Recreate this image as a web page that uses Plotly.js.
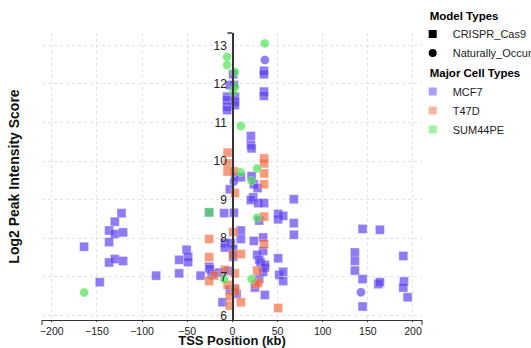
<!DOCTYPE html>
<html><head><meta charset="utf-8">
<script src="https://cdn.plot.ly/plotly-3.0.1.min.js"></script>
<style>html,body{margin:0;padding:0;background:#fff}#chart{width:531px;height:348px}</style>
</head><body><div id="chart"></div>
<script>
// Tick values
const xTicks = [-200, -150, -100, -50, 0, 50, 100, 150, 200];
const yTicks = [6, 7, 8, 9, 10, 11, 12, 13];

// Legend categories
const modelTypes = ['CRISPR_Cas9', 'Naturally_Occurred'];
const cellTypes = ['MCF7', 'T47D', 'SUM44PE'];

// MCF7 – CRISPR_Cas9 (squares)
const mcf7CrisprX = [0.9, 35, 35, 35, 35, -2.8, 1.7, -5.8, -5.8, 2.8, 2.8, 2.8, -5.8, -5.8, 20.5, 20.5,
  21.3, 9.4, 21.3, 23.8, 27.9, -2.8, 23, 20.5, 28.6, 35.2, 68.1, -25.7, -9.1, 1.7, 29.7, 50.7, 50.7, 56.3, 68.1, 9.4,
  9.4, -8.3, -8.3, -1.7, 23.8, 34.1, 68.1, 0.9, 0.9, 34.1, 27.5, 29.7, 31.2, 36, 36, 50.7,
  -50.7, -49, -49, -58.9, -25.7, -24.9, -23, -35.2, -58.9, -14.6, -4.6, 2.8, -2.8, 4.6, -10.9, 24.9, 29.7, 34.1, 36, 51.9, 56.3, 56.3,
  -122.8, -130.2, -136.5, -130.2, -121, -136.5, -164.2, -136.5, -130.2, -121, -146.8, -84.4,
  144.2, 163.4, 135.7, 135.7, 135.7, 189.3, 144.2, 161.6, 163.4, 190, 189.3, 194.1, 144.2];
const mcf7CrisprY = [12.25, 12.34, 12.25, 11.80, 11.69, 11.97, 11.97, 11.67, 11.58, 11.67, 11.54, 11.45, 11.41, 11.32, 10.65, 10.42,
  10.33, 9.58, 9.61, 9.40, 9.30, 9.27, 9.06, 8.99, 8.91, 8.91, 9.01, 8.67, 8.65, 8.66, 8.46, 8.63, 8.49, 8.58, 8.39, 8.20,
  7.98, 7.87, 7.76, 7.87, 7.93, 8.02, 8.09, 7.72, 7.52, 7.67, 7.57, 7.44, 7.37, 7.31, 7.24, 7.48,
  7.70, 7.52, 7.38, 7.44, 7.26, 7.20, 7.07, 7.03, 7.09, 7.11, 7.15, 6.66, 6.66, 6.56, 6.34, 6.72, 6.94, 7.13, 6.53, 7.05, 7.13, 6.89,
  8.65, 8.43, 8.20, 8.11, 8.15, 7.90, 7.78, 7.37, 7.46, 7.41, 6.86, 7.03,
  8.24, 8.22, 7.63, 7.41, 7.16, 7.54, 6.94, 6.81, 6.86, 6.88, 6.72, 6.47, 6.23];

// MCF7 – Naturally_Occurred (circles)
const mcf7NaturalX = [36, 2.8, 1.7, 142.4];
const mcf7NaturalY = [12.62, 9.60, 9.47, 6.60];

// T47D – CRISPR_Cas9 (squares)
const t47dCrisprX = [-5.3, 35.2, 35.2, -5.3, -5.3, 1.7, 35.2, 35.2, 2.8, 35.2, 0.9, -25.7, 35.2, 9.4, 0.9,
  -25.7, -20.2, -8.3, 2.8, -25.7, -5.3, 2.8, 2.8, -2.8, 9.4, -2.8, 26, 28.6, 27.5, 50.7];
const t47dCrisprY = [10.22, 10.07, 9.94, 9.94, 9.73, 9.73, 9.68, 9.40, 9.17, 8.56, 8.16, 7.98, 7.85, 7.59, 7.57,
  7.51, 7.03, 7.18, 7.09, 6.89, 6.79, 6.70, 6.62, 6.49, 6.34, 6.25, 6.81, 6.85, 7.16, 6.19];

// SUM44PE – CRISPR_Cas9 (squares)
const sum44peCrisprX = [-25.7];
const sum44peCrisprY = [8.67];

// SUM44PE – Naturally_Occurred (circles)
const sum44peNaturalX = [-5.8, -5.8, 2.8, 36, 2.8, 0.9, 9.4, 27.5, 9.1, 21.3, 27.5, -9.1, 21.3, -164.2];
const sum44peNaturalY = [12.70, 12.49, 12.31, 13.05, 11.93, 11.80, 10.91, 9.81, 9.71, 9.49, 8.53, 6.94, 6.94, 6.59];

const FONT = 'Liberation Sans, Arial, Helvetica, sans-serif';
const colors = {MCF7: 'rgb(92,62,240)', T47D: 'rgb(242,108,66)', SUM44PE: 'rgb(74,226,80)'};
const symbols = {CRISPR_Cas9: 'square', Naturally_Occurred: 'circle'};
const MOP = 0.68;
const MSIZE = 9;

const traces = [];
// Legend-only entries: model types
modelTypes.forEach(m => traces.push({
  type: 'scatter', mode: 'markers', x: [null], y: [null], name: m, yaxis: 'y2', legend: 'legend',
  marker: {color: '#000', symbol: symbols[m], size: 8}, hoverinfo: 'skip'
}));
// Legend-only entries: cell types
cellTypes.forEach(c => traces.push({
  type: 'scatter', mode: 'markers', x: [null], y: [null], name: c, yaxis: 'y2', legend: 'legend2',
  marker: {color: colors[c], symbol: 'square', size: 8, opacity: 0.5}, hoverinfo: 'skip'
}));

function dataTrace(x, y, cell, model) {
  return {
    type: 'scatter', mode: 'markers', x: x, y: y, showlegend: false,
    name: cell + ' ' + model,
    marker: {color: colors[cell], symbol: symbols[model], size: MSIZE, opacity: MOP,
      line: {color: 'rgba(255,255,255,0.35)', width: 1}}
  };
}
traces.push(dataTrace(mcf7CrisprX, mcf7CrisprY, 'MCF7', 'CRISPR_Cas9'));
traces.push(dataTrace(mcf7NaturalX, mcf7NaturalY, 'MCF7', 'Naturally_Occurred'));
traces.push(dataTrace(t47dCrisprX, t47dCrisprY, 'T47D', 'CRISPR_Cas9'));
traces.push(dataTrace(sum44peCrisprX, sum44peCrisprY, 'SUM44PE', 'CRISPR_Cas9'));
traces.push(dataTrace(sum44peNaturalX, sum44peNaturalY, 'SUM44PE', 'Naturally_Occurred'));

const xRange = [-210.8, 210];
const yRange = [5.88, 13.32];
const zeroPos = (0 - xRange[0]) / (xRange[1] - xRange[0]);

const legendTitleFont = {size: 11.5, weight: 700, color: '#000'};
const legendBase = {xanchor: 'left', yanchor: 'top', font: {size: 11, color: '#222'},
  itemclick: false, bgcolor: 'rgba(0,0,0,0)', indentation: -15};

const layout = {
  width: 531, height: 348,
  margin: {l: 42, r: 109, t: 33, b: 28, pad: 0, autoexpand: false},
  paper_bgcolor: '#fff', plot_bgcolor: '#fff',
  font: {family: FONT, color: '#222', size: 11},
  showlegend: true,
  legend: Object.assign({}, legendBase, {x: 1.015, y: 1.099, title: {text: 'Model Types', font: legendTitleFont, side: 'top'}}),
  legend2: Object.assign({}, legendBase, {x: 1.015, y: 0.899, title: {text: 'Major Cell Types', font: legendTitleFont, side: 'top'}}),
  xaxis: {
    range: xRange, tickvals: xTicks, ticks: 'outside', ticklen: 1, tickcolor: '#333', tickwidth: 1,
    showline: true, linecolor: '#333', linewidth: 1, zeroline: false,
    showgrid: true, gridcolor: '#e2e2e2', griddash: 'dot', gridwidth: 1,
    tickfont: {size: 10.5, color: '#222'},
    title: {text: 'TSS Position (kb)', font: {size: 13, weight: 700, color: '#111'}, standoff: 6}
  },
  yaxis: {
    range: yRange, tickvals: yTicks, showticklabels: false, ticks: '', showline: false, zeroline: false,
    showgrid: true, gridcolor: '#e2e2e2', griddash: 'dot', gridwidth: 1,
    title: {text: 'Log2 Peak Intensity Score', font: {size: 14, weight: 700, color: '#111'}, standoff: 18}
  },
  yaxis2: {
    overlaying: 'y', anchor: 'free', position: zeroPos, side: 'left',
    range: yRange, tickvals: yTicks, showgrid: false, zeroline: false,
    showline: true, linecolor: '#333', linewidth: 1.5,
    ticks: 'outside', ticklen: 3, tickcolor: 'rgba(0,0,0,0)',
    tickfont: {size: 12, color: '#222'}
  },
  shapes: [
    {type: 'line', xref: 'paper', yref: 'paper', x0: 0, x1: 0, ysizemode: 'pixel', yanchor: 0, y0: 0, y1: -5, line: {color: '#333', width: 1}},
    {type: 'line', xref: 'paper', yref: 'paper', x0: 1, x1: 1, ysizemode: 'pixel', yanchor: 0, y0: 0, y1: -5, line: {color: '#333', width: 1}},
    {type: 'line', xref: 'x', yref: 'paper', xsizemode: 'pixel', xanchor: 0, x0: -5, x1: 0, y0: 1, y1: 1, line: {color: '#333', width: 1.5}}
  ]
};

Plotly.newPlot('chart', traces, layout, {displayModeBar: false, staticPlot: true});
</script>
</body></html>
